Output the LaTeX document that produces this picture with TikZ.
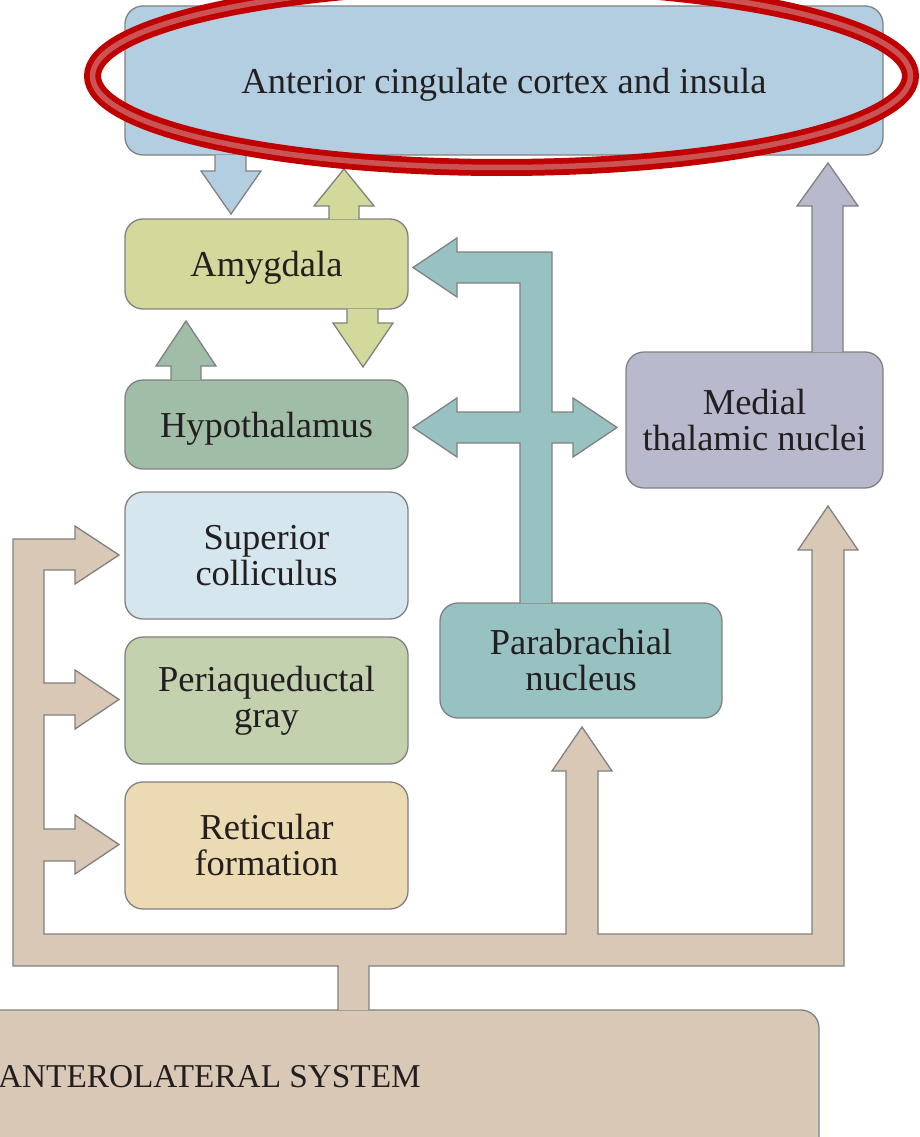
\documentclass[tikz,border=0pt]{standalone}
\usepackage{fontspec}
\setmainfont{Liberation Serif}
\usepackage{xcolor}
\usetikzlibrary{calc}
\definecolor{accblue}{RGB}{179,206,224}
\definecolor{amygreen}{RGB}{211,217,154}
\definecolor{hypogreen}{RGB}{160,189,168}
\definecolor{scblue}{RGB}{214,230,238}
\definecolor{paggreen}{RGB}{195,209,175}
\definecolor{rfsand}{RGB}{235,218,178}
\definecolor{pbnteal}{RGB}{152,193,193}
\definecolor{mtnlilac}{RGB}{184,185,204}
\definecolor{alstan}{RGB}{216,200,181}
\definecolor{edgegray}{RGB}{128,128,128}
\definecolor{inkblack}{RGB}{35,31,32}
\definecolor{markred}{RGB}{192,0,0}
\definecolor{markpink}{RGB}{202,84,84}

\tikzset{
    regionbox/.style={draw=edgegray, line width=1.3pt, rounded corners=18pt, inner sep=0pt,
        align=center, text=inkblack, font=\fontsize{36.5}{36}\selectfont},
    oneline/.style={text depth=0pt},
    fatarrow/.style={draw=edgegray, line width=1.3pt, line join=miter, fill=#1}
}

\begin{document}
\begin{tikzpicture}[x=1pt, y=-1pt]
        \useasboundingbox (0,0) rectangle (920,1137);
        \clip (0,0) rectangle (920,1137);

        \node[regionbox, oneline, fill=accblue, minimum width=758pt, minimum height=149pt] (acc) at (504,80.5) {Anterior cingulate cortex and insula};
        \node[regionbox, oneline, fill=amygreen, minimum width=283pt, minimum height=90pt] (amy) at (266.5,264) {Amygdala};
        \node[regionbox, oneline, fill=hypogreen, minimum width=283pt, minimum height=89pt] (hypo) at (266.5,424.5) {Hypothalamus};
        \node[regionbox, fill=scblue, minimum width=283pt, minimum height=127pt] (sc) at (266.5,555.5) {Superior\\colliculus};
        \node[regionbox, fill=paggreen, minimum width=283pt, minimum height=127pt] (pag) at (266.5,700.5) {Periaqueductal\\gray};
        \node[regionbox, fill=rfsand, minimum width=283pt, minimum height=127pt] (rf) at (266.5,845.5) {Reticular\\formation};
        \node[regionbox, fill=pbnteal, minimum width=282pt, minimum height=115pt] (pbn) at (581,660.5) {Parabrachial\\nucleus};
        \node[regionbox, fill=mtnlilac, minimum width=257pt, minimum height=136pt] (mtn) at (754.5,420) {Medial\\thalamic nuclei};
        \node[regionbox, fill=alstan, minimum width=860pt, minimum height=160pt] (als) at (389,1090) {};
        \node[anchor=base east, inner sep=0pt, text=inkblack, font=\fontsize{33.3}{36}\selectfont] (alslabel) at (421,1087) {ANTEROLATERAL SYSTEM};

        \coordinate (accS) at ([yshift=0.7pt]acc.south);
        \coordinate (amyN) at ([yshift=-0.7pt]amy.north);
        \coordinate (amyS) at ([yshift=0.7pt]amy.south);
        \coordinate (hypoN) at ([yshift=-0.7pt]hypo.north);
        \coordinate (pbnN) at ([yshift=-0.7pt]pbn.north);
        \coordinate (mtnN) at ([yshift=-0.7pt]mtn.north);
        \coordinate (alsN) at ([yshift=-0.7pt]als.north);

        \path[fatarrow=accblue] (215,0 |- accS) -- (215,171) -- (201,171) -- (231,214) -- (261,171) -- (246,171) -- (246,0 |- accS);
        \path[fatarrow=amygreen] (329,0 |- amyN) -- (329,206) -- (314,206) -- (344,169) -- (374,206) -- (359,206) -- (359,0 |- amyN);
        \path[fatarrow=amygreen] (347,0 |- amyS) -- (347,323) -- (333,323) -- (363,367) -- (393,323) -- (378,323) -- (378,0 |- amyS);
        \path[fatarrow=hypogreen] (171,0 |- hypoN) -- (171,366) -- (156,366) -- (186,321) -- (216,366) -- (201,366) -- (201,0 |- hypoN);
        \path[fatarrow=pbnteal] (520,0 |- pbnN) -- (520,443) -- (457,443) -- (457,457) -- (413,427.5) -- (457,398) -- (457,412)
            -- (520,412) -- (520,283) -- (457,283) -- (457,297) -- (413,267.5) -- (457,238) -- (457,252)
            -- (552,252) -- (552,412) -- (573,412) -- (573,398) -- (617,427.5) -- (573,457) -- (573,443)
            -- (552,443) -- (552,0 |- pbnN);
        \path[fatarrow=mtnlilac] (812,0 |- mtnN) -- (812,206) -- (797,206) -- (828,163) -- (858,206) -- (843,206) -- (843,0 |- mtnN);
        \path[fatarrow=alstan] (338,0 |- alsN) -- (338,966) -- (13,966) -- (13,539) -- (75,539) -- (75,526) -- (119,555)
            -- (75,584) -- (75,570) -- (44,570) -- (44,683) -- (75,683) -- (75,670) -- (119,699.5) -- (75,729)
            -- (75,715) -- (44,715) -- (44,829) -- (75,829) -- (75,815) -- (119,844.5) -- (75,874) -- (75,861)
            -- (44,861) -- (44,934) -- (566,934) -- (566,771) -- (552,771) -- (582,727) -- (612,771) -- (598,771)
            -- (598,934) -- (812,934) -- (812,550) -- (798,550) -- (828,506) -- (858,550) -- (844,550)
            -- (844,966) -- (369,966) -- (369,0 |- alsN);

        \draw[markred, line width=17pt] (501.5,76) ellipse [x radius=409pt, y radius=91.5pt];
        \draw[markpink, line width=5.5pt] (501.5,76) ellipse [x radius=409pt, y radius=91.5pt];
\end{tikzpicture}
\end{document}
